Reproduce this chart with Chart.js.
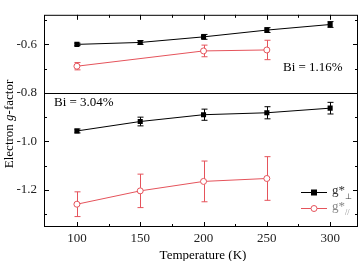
<!DOCTYPE html>
<html>
<head>
<meta charset="utf-8">
<script src="https://cdn.jsdelivr.net/npm/chart.js@4.4.1/dist/chart.umd.min.js"></script>
<style>
  html, body { margin: 0; padding: 0; background: #fff; }
  #wrap { width: 364px; height: 261px; }
</style>
</head>
<body>
<div id="wrap"><canvas id="gChart" width="364" height="261"></canvas></div>
<script>
// 1. DATOS
const temps = [100, 150, 200, 250, 300];

// Bi = 1.16 %
const perpBi116 = [-0.600, -0.592, -0.569, -0.541, -0.518];
const perpBi116Err = [0.005, 0.008, 0.010, 0.010, 0.012];
const parBi116 = [-0.690, null, -0.627, -0.623, null];
const parBi116Err = [0.015, null, 0.024, 0.040, null];

// Bi = 3.04 %
const perpBi304 = [-0.957, -0.918, -0.890, -0.882, -0.863];
const perpBi304Err = [0.008, 0.018, 0.023, 0.025, 0.024];
const parBi304 = [-1.259, -1.204, -1.165, -1.153, null];
const parBi304Err = [0.051, 0.069, 0.084, 0.090, null];

const xTicks = [100, 150, 200, 250, 300];
const xMinor = [125, 175, 225, 275];
const yTicks = [-1.2, -1.0, -0.8, -0.6];
const yMinor = [-1.3, -1.1, -0.9, -0.7, -0.5];
const dividerAt = -0.8;

const BLACK = '#000000';
const RED = '#e5535b';
const FONT = '"Liberation Serif", "Times New Roman", serif';

function pts(vals) {
    return temps.map((t, i) => ({ x: t, y: vals[i] }));
}

function perpStyle(vals, errs) {
    return {
        data: pts(vals), errorBars: errs,
        borderColor: BLACK, backgroundColor: BLACK,
        borderWidth: 1, pointStyle: 'rect', pointRadius: 3.6,
        pointBorderWidth: 0, pointBackgroundColor: BLACK,
        spanGaps: true, tension: 0
    };
}

function parStyle(vals, errs) {
    return {
        data: pts(vals), errorBars: errs,
        borderColor: RED, backgroundColor: '#ffffff',
        borderWidth: 1, pointStyle: 'circle', pointRadius: 3,
        pointBorderWidth: 1, pointBorderColor: RED, pointBackgroundColor: '#ffffff',
        spanGaps: true, tension: 0
    };
}

// 2. PLUGIN: marco, ticks hacia dentro, barras de error, textos y leyenda
const decor = {
    id: 'decor',
    beforeDatasetsDraw(chart) {
        const { ctx, chartArea: a, scales: { x, y } } = chart;
        ctx.save();
        ctx.lineWidth = 1;

        // línea divisoria entre los dos paneles
        ctx.strokeStyle = BLACK;
        const yd = Math.round(y.getPixelForValue(dividerAt)) + 0.5;
        ctx.beginPath();
        ctx.moveTo(a.left, yd);
        ctx.lineTo(a.right, yd);
        ctx.stroke();

        // barras de error
        chart.data.datasets.forEach(ds => {
            ctx.strokeStyle = ds.borderColor;
            ds.data.forEach((p, j) => {
                const e = ds.errorBars[j];
                if (p.y == null || e == null) return;
                const px = Math.round(x.getPixelForValue(p.x)) + 0.5;
                const y1 = y.getPixelForValue(p.y + e);
                const y2 = y.getPixelForValue(p.y - e);
                ctx.beginPath();
                ctx.moveTo(px, y1); ctx.lineTo(px, y2);
                ctx.moveTo(px - 3, y1); ctx.lineTo(px + 3, y1);
                ctx.moveTo(px - 3, y2); ctx.lineTo(px + 3, y2);
                ctx.stroke();
            });
        });
        ctx.restore();
    },
    afterDraw(chart) {
        const { ctx, chartArea: a, scales: { x, y } } = chart;
        ctx.save();
        ctx.strokeStyle = BLACK;
        ctx.lineWidth = 1;

        // marco
        ctx.strokeRect(a.left + 0.5, a.top + 0.5, a.right - a.left - 1, a.bottom - a.top - 1);

        // ticks
        ctx.beginPath();
        const tx = (v, len) => {
            const px = Math.round(x.getPixelForValue(v)) + 0.5;
            ctx.moveTo(px, a.bottom); ctx.lineTo(px, a.bottom - len);
            ctx.moveTo(px, a.top); ctx.lineTo(px, a.top + len);
        };
        const ty = (v, len) => {
            const py = Math.round(y.getPixelForValue(v)) + 0.5;
            ctx.moveTo(a.left, py); ctx.lineTo(a.left + len, py);
            ctx.moveTo(a.right, py); ctx.lineTo(a.right - len, py);
        };
        xTicks.forEach(v => tx(v, 5));
        xMinor.forEach(v => tx(v, 3));
        yTicks.forEach(v => ty(v, 5));
        yMinor.forEach(v => ty(v, 3));
        ctx.stroke();

        // anotaciones
        ctx.fillStyle = BLACK;
        ctx.font = '13px ' + FONT;
        ctx.textBaseline = 'middle';
        ctx.textAlign = 'left';
        ctx.fillText('Bi = 1.16%', 283, 68);
        ctx.fillText('Bi = 3.04%', 54, 103);

        // título eje x
        ctx.textAlign = 'center';
        ctx.fillText('Temperature (K)', (a.left + a.right) / 2 + 2, 256);

        // título eje y con g en cursiva
        ctx.save();
        ctx.translate(10, 124);
        ctx.rotate(-Math.PI / 2);
        const parts = [['Electron ', ''], ['g', 'italic '], ['-factor', '']];
        let w = 0;
        parts.forEach(([t, st]) => { ctx.font = st + '13px ' + FONT; w += ctx.measureText(t).width; });
        let cx = -w / 2;
        ctx.textAlign = 'left';
        parts.forEach(([t, st]) => {
            ctx.font = st + '13px ' + FONT;
            ctx.fillText(t, cx, 0);
            cx += ctx.measureText(t).width;
        });
        ctx.restore();

        // leyenda
        const rows = [
            { ds: chart.data.datasets[0], sub: '\u22A5', y: 192 },
            { ds: chart.data.datasets[1], sub: '//', y: 208 }
        ];
        rows.forEach(r => {
            const ds = r.ds;
            ctx.strokeStyle = ds.borderColor;
            ctx.beginPath();
            ctx.moveTo(301, r.y + 0.5); ctx.lineTo(327, r.y + 0.5);
            ctx.stroke();
            if (ds.pointStyle === 'rect') {
                ctx.fillStyle = ds.pointBackgroundColor;
                ctx.fillRect(311, r.y - 2.5, 6, 6);
            } else {
                ctx.fillStyle = '#fff';
                ctx.beginPath();
                ctx.arc(314, r.y + 0.5, 3, 0, Math.PI * 2);
                ctx.fill(); ctx.stroke();
            }
            ctx.fillStyle = ds.borderColor === BLACK ? '#333' : '#888';
            ctx.font = '13px ' + FONT;
            ctx.textAlign = 'left';
            ctx.fillText('g*', 332, r.y - 1);
            ctx.font = '8px ' + FONT;
            ctx.fillText(r.sub, 345, r.y + 5);
        });
        ctx.restore();
    }
};

// 3. GRÁFICO
const ctx = document.getElementById('gChart').getContext('2d');
new Chart(ctx, {
    type: 'line',
    data: {
        datasets: [
            perpStyle(perpBi116, perpBi116Err),
            parStyle(parBi116, parBi116Err),
            perpStyle(perpBi304, perpBi304Err),
            parStyle(parBi304, parBi304Err)
        ]
    },
    options: {
        responsive: false,
        animation: false,
        events: [],
        layout: { padding: { left: 0, top: 4, right: 6, bottom: 0 } },
        plugins: { legend: { display: false }, tooltip: { enabled: false } },
        scales: {
            x: {
                type: 'linear', min: 74, max: 322,
                grid: { display: false, drawTicks: false },
                border: { display: false },
                afterBuildTicks: s => { s.ticks = xTicks.map(v => ({ value: v })); },
                afterFit: s => { s.height = 34; },
                ticks: { padding: 4, color: '#222', font: { family: FONT, size: 13 } }
            },
            y: {
                min: -1.353, max: -0.478,
                grid: { display: false, drawTicks: false },
                border: { display: false },
                afterBuildTicks: s => { s.ticks = yTicks.map(v => ({ value: v })); },
                afterFit: s => { s.width = 44; },
                ticks: {
                    padding: 7, color: '#222', font: { family: FONT, size: 13 },
                    callback: v => v.toFixed(1)
                }
            }
        }
    },
    plugins: [decor]
});
</script>
</body>
</html>
